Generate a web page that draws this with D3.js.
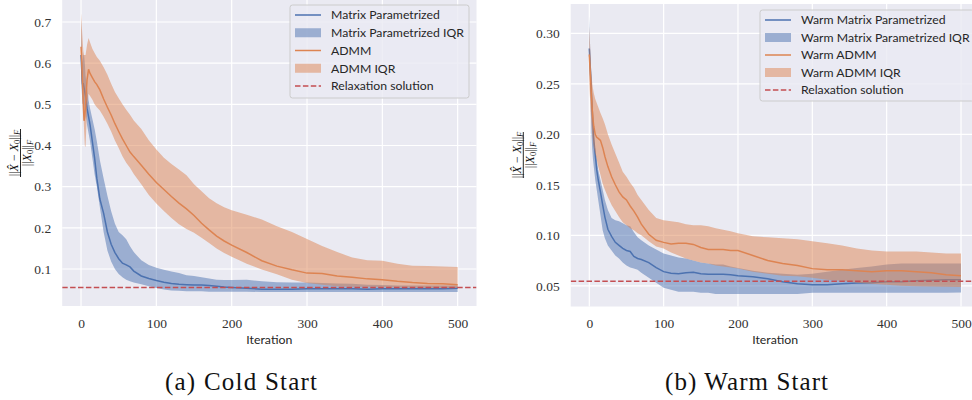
<!DOCTYPE html>
<html><head><meta charset="utf-8">
<script src="https://cdn.jsdelivr.net/npm/d3@7"></script>
<style>body{margin:0;background:#fff}</style>
</head><body>
<svg id="c" width="972" height="400" xmlns="http://www.w3.org/2000/svg"></svg>
<script>
// ---------------- DATA ----------------
const iters = [0,1,2,3,4,5,6,8,10,12,15,18,21,25,30,35,40,45,50,55,60,65,70,80,90,100,110,120,130,140,150,160,170,180,190,200,220,240,260,280,300,320,340,360,380,400,420,440,460,480,500];

// Cold start
const coldMP   = [0.62,0.58,0.55,0.55,0.54,0.53,0.52,0.49,0.47,0.45,0.41,0.37,0.32,0.27,0.235,0.19,0.16,0.14,0.125,0.114,0.11,0.105,0.095,0.083,0.077,0.072,0.068,0.065,0.063,0.062,0.061,0.061,0.060,0.058,0.056,0.055,0.053,0.051,0.051,0.051,0.052,0.052,0.052,0.052,0.051,0.052,0.052,0.052,0.052,0.052,0.053];
const coldMPq1 = [0.56,0.53,0.5,0.5,0.5,0.49,0.48,0.45,0.43,0.41,0.37,0.33,0.30,0.25,0.19,0.145,0.118,0.1,0.088,0.08,0.074,0.07,0.067,0.063,0.058,0.054,0.05,0.048,0.047,0.046,0.046,0.046,0.045,0.045,0.045,0.045,0.045,0.044,0.044,0.044,0.044,0.044,0.044,0.044,0.044,0.044,0.044,0.044,0.044,0.044,0.044];
const coldMPq3 = [0.706,0.64,0.6,0.62,0.62,0.6,0.57,0.54,0.51,0.49,0.465,0.44,0.41,0.364,0.32,0.278,0.24,0.21,0.19,0.182,0.172,0.155,0.141,0.121,0.11,0.103,0.098,0.094,0.09,0.085,0.083,0.08,0.077,0.074,0.073,0.073,0.074,0.07,0.068,0.067,0.067,0.066,0.065,0.064,0.062,0.061,0.06,0.06,0.06,0.06,0.06];
const coldADMM   = [0.64,0.6,0.55,0.5,0.46,0.47,0.5,0.56,0.585,0.575,0.565,0.555,0.548,0.535,0.513,0.493,0.474,0.453,0.434,0.416,0.4,0.384,0.373,0.352,0.33,0.31,0.293,0.276,0.26,0.246,0.23,0.211,0.195,0.18,0.168,0.158,0.14,0.12,0.107,0.098,0.09,0.089,0.083,0.08,0.076,0.074,0.07,0.067,0.065,0.064,0.062];
const coldADMMq1 = [0.6,0.56,0.52,0.485,0.44,0.4,0.396,0.49,0.526,0.52,0.512,0.5,0.493,0.485,0.47,0.453,0.434,0.412,0.394,0.374,0.358,0.346,0.331,0.306,0.28,0.259,0.241,0.224,0.209,0.197,0.188,0.176,0.163,0.15,0.139,0.13,0.113,0.099,0.087,0.074,0.066,0.062,0.058,0.057,0.057,0.056,0.055,0.055,0.054,0.054,0.054];
const coldADMMq3 = [0.722,0.69,0.66,0.63,0.62,0.62,0.62,0.645,0.661,0.65,0.635,0.625,0.615,0.606,0.59,0.572,0.55,0.53,0.515,0.5,0.487,0.475,0.461,0.44,0.413,0.39,0.37,0.355,0.342,0.328,0.306,0.289,0.272,0.26,0.25,0.243,0.232,0.22,0.204,0.19,0.173,0.156,0.141,0.128,0.121,0.12,0.113,0.108,0.107,0.106,0.105];

// Warm start
const warmMP   = [0.285,0.27,0.257,0.24,0.224,0.21,0.195,0.18,0.165,0.155,0.143,0.13,0.118,0.106,0.099,0.093,0.09,0.087,0.085,0.084,0.079,0.077,0.076,0.073,0.068,0.064,0.0625,0.062,0.063,0.0635,0.062,0.0615,0.0615,0.0615,0.061,0.06,0.059,0.057,0.054,0.052,0.051,0.051,0.052,0.0527,0.053,0.054,0.054,0.055,0.0555,0.056,0.056];
const warmMPq1 = [0.27,0.25,0.23,0.2,0.185,0.175,0.168,0.155,0.145,0.135,0.12,0.105,0.097,0.09,0.085,0.08,0.077,0.073,0.07,0.068,0.067,0.066,0.063,0.058,0.053,0.048,0.046,0.044,0.044,0.044,0.043,0.043,0.042,0.042,0.042,0.042,0.042,0.042,0.042,0.042,0.043,0.043,0.043,0.043,0.043,0.043,0.043,0.043,0.043,0.043,0.0434];
const warmMPq3 = [0.317,0.29,0.27,0.25,0.23,0.21,0.2,0.185,0.175,0.165,0.155,0.145,0.135,0.125,0.117,0.115,0.114,0.112,0.11,0.109,0.103,0.098,0.095,0.09,0.086,0.082,0.08,0.078,0.077,0.075,0.073,0.072,0.071,0.071,0.069,0.0675,0.065,0.063,0.062,0.061,0.062,0.064,0.066,0.0675,0.069,0.071,0.072,0.072,0.072,0.072,0.072];
const warmADMM   = [0.279,0.265,0.25,0.237,0.224,0.215,0.208,0.2,0.197,0.196,0.194,0.187,0.178,0.168,0.158,0.15,0.143,0.138,0.135,0.129,0.124,0.118,0.111,0.101,0.095,0.093,0.0915,0.092,0.092,0.091,0.088,0.086,0.086,0.086,0.085,0.085,0.08,0.075,0.072,0.07,0.067,0.066,0.066,0.065,0.064,0.065,0.065,0.064,0.063,0.061,0.060];
const warmADMMq1 = [0.25,0.235,0.22,0.21,0.2,0.193,0.188,0.181,0.175,0.168,0.16,0.151,0.145,0.138,0.13,0.124,0.118,0.113,0.11,0.107,0.105,0.102,0.1,0.094,0.089,0.087,0.083,0.08,0.077,0.075,0.073,0.072,0.07,0.069,0.068,0.067,0.064,0.062,0.06,0.0595,0.058,0.056,0.055,0.053,0.052,0.051,0.05,0.0495,0.0494,0.049,0.0487];
const warmADMMq3 = [0.307,0.29,0.27,0.26,0.25,0.245,0.241,0.235,0.231,0.227,0.221,0.216,0.21,0.2,0.19,0.181,0.172,0.163,0.158,0.152,0.147,0.14,0.135,0.125,0.117,0.115,0.114,0.113,0.111,0.11,0.11,0.109,0.107,0.1055,0.104,0.102,0.099,0.098,0.097,0.096,0.094,0.092,0.09,0.087,0.085,0.084,0.084,0.084,0.083,0.082,0.082];

const relaxCold = 0.055;
const relaxWarm = 0.0545;

const xTicks = [0,100,200,300,400,500];
const coldYTicks = [0.1,0.2,0.3,0.4,0.5,0.6,0.7];
const coldYLabels = ["0.1","0.2","0.3","0.4","0.5","0.6","0.7"];
const warmYTicks = [0.05,0.10,0.15,0.20,0.25,0.30];
const warmYLabels = ["0.05","0.10","0.15","0.20","0.25","0.30"];

const coldLegend = ["Matrix Parametrized","Matrix Parametrized IQR","ADMM","ADMM IQR","Relaxation solution"];
const warmLegend = ["Warm Matrix Parametrized","Warm Matrix Parametrized IQR","Warm ADMM","Warm ADMM IQR","Relaxation solution"];
const xLabel = "Iteration";
const captions = ["(a) Cold Start","(b) Warm Start"];

// ---------------- STYLE ----------------
const BLUE = "#4c72b0", ORANGE = "#dd8452", RED = "#c44e52", BG = "#eaeaf2";
const SANS = "Lato, 'DejaVu Sans', sans-serif";
const SERIF = "'Liberation Serif', 'DejaVu Serif', serif";

const svg = d3.select("#c");
svg.append("rect").attr("width",972).attr("height",400).attr("fill","#fff");

// fit font size of a text to a target width
function fitSize(str, family, target) {
  const t = svg.append("text").attr("font-family", family).attr("font-size", 100).text(str);
  const w = t.node().getComputedTextLength();
  t.remove();
  return 100 * target / w;
}
const legendSize = fitSize("Matrix Parametrized IQR", SANS, 133);
const xLabelSize = fitSize(xLabel, SANS, 46);

function panel(cfg, idx) {
  const x = d3.scaleLinear().domain([-25, 525]).range([cfg.x0, cfg.x1]);
  const y = d3.scaleLinear().domain(cfg.yDomain).range([cfg.y1, cfg.y0]);
  const g = svg.append("g");
  g.append("rect").attr("x", cfg.x0).attr("y", cfg.y0)
    .attr("width", cfg.x1 - cfg.x0).attr("height", cfg.y1 - cfg.y0).attr("fill", BG);

  const cid = "clip" + idx;
  svg.append("clipPath").attr("id", cid).append("rect")
    .attr("x", cfg.x0).attr("y", cfg.y0).attr("width", cfg.x1 - cfg.x0).attr("height", cfg.y1 - cfg.y0);

  // grid
  g.append("g").selectAll("line").data(xTicks).join("line")
    .attr("x1", d => x(d)).attr("x2", d => x(d)).attr("y1", cfg.y0).attr("y2", cfg.y1)
    .attr("stroke", "#fff").attr("stroke-width", 1.2);
  g.append("g").selectAll("line").data(cfg.yTicks).join("line")
    .attr("x1", cfg.x0).attr("x2", cfg.x1).attr("y1", d => y(d)).attr("y2", d => y(d))
    .attr("stroke", "#fff").attr("stroke-width", 1.2);

  // axes (labels only)
  const xa = g.append("g").attr("transform", `translate(0,${cfg.y1})`)
    .call(d3.axisBottom(x).tickValues(xTicks).tickSize(0).tickPadding(12).tickFormat(d3.format("d")));
  xa.select(".domain").remove();
  xa.selectAll("text").attr("font-family", SERIF).attr("font-size", 13.5).attr("fill", "#333");

  const ya = g.append("g").attr("transform", `translate(${cfg.x0},0)`)
    .call(d3.axisLeft(y).tickValues(cfg.yTicks).tickSize(0).tickPadding(11).tickFormat((d, i) => cfg.yLabels[i]));
  ya.select(".domain").remove();
  ya.selectAll("text").attr("font-family", SERIF).attr("font-size", 13.5).attr("fill", "#333");

  // data
  const pg = g.append("g").attr("clip-path", `url(#${cid})`);
  const line = d3.line().x((d, i) => x(iters[i])).y(d => y(d));
  const area = (lo, hi) => d3.area().x((d, i) => x(iters[i])).y0((d, i) => y(lo[i])).y1((d, i) => y(hi[i]))(lo);

  pg.append("path").attr("d", line(cfg.mp)).attr("fill", "none").attr("stroke", BLUE).attr("stroke-width", 1.5);
  pg.append("path").attr("d", area(cfg.mpq1, cfg.mpq3)).attr("fill", BLUE).attr("fill-opacity", 0.5);
  pg.append("path").attr("d", line(cfg.ad)).attr("fill", "none").attr("stroke", ORANGE).attr("stroke-width", 1.5);
  pg.append("path").attr("d", area(cfg.adq1, cfg.adq3)).attr("fill", ORANGE).attr("fill-opacity", 0.5);
  pg.append("line").attr("x1", cfg.x0).attr("x2", cfg.x1).attr("y1", y(cfg.relax)).attr("y2", y(cfg.relax))
    .attr("stroke", RED).attr("stroke-width", 1.5).attr("stroke-dasharray", "5.5,2.4");

  // legend
  const L = cfg.legend;
  const lg = g.append("g");
  lg.append("rect").attr("x", L.x).attr("y", L.y).attr("width", L.w).attr("height", L.h)
    .attr("rx", 2.5).attr("fill", BG).attr("fill-opacity", 0.8).attr("stroke", "#cccccc").attr("stroke-width", 1);
  const kinds = ["line", "patch", "line", "patch", "dash"];
  const cols = [BLUE, BLUE, ORANGE, ORANGE, RED];
  cfg.legendText.forEach((t, i) => {
    const cy = L.y + L.first + i * L.step;
    const hx = L.x + 5;
    if (kinds[i] === "patch") {
      lg.append("rect").attr("x", hx).attr("y", cy - 4.5).attr("width", 26).attr("height", 9)
        .attr("fill", cols[i]).attr("fill-opacity", 0.5);
    } else {
      lg.append("line").attr("x1", hx).attr("x2", hx + 26).attr("y1", cy).attr("y2", cy)
        .attr("stroke", cols[i]).attr("stroke-width", 1.5)
        .attr("stroke-dasharray", kinds[i] === "dash" ? "5.5,2.4" : null);
    }
    lg.append("text").attr("x", L.x + 41).attr("y", cy).attr("dy", "0.35em")
      .attr("font-family", SANS).attr("font-size", legendSize).attr("fill", "#262626").text(t);
  });

  // x label
  g.append("text").attr("x", (cfg.x0 + cfg.x1) / 2).attr("y", 340).attr("dy", "0.35em")
    .attr("text-anchor", "middle").attr("font-family", SANS).attr("font-size", xLabelSize)
    .attr("fill", "#262626").text(xLabel);

  // y label: fraction, rotated
  const fl = g.append("g").attr("transform", `translate(${cfg.fx},${cfg.fy}) rotate(-90)`)
    .attr("font-family", SERIF).attr("font-size", 12).attr("fill", "#111");
  fl.append("line").attr("x1", -cfg.fw / 2).attr("x2", cfg.fw / 2).attr("y1", 0).attr("y2", 0)
    .attr("stroke", "#111").attr("stroke-width", 0.9);
  const num = fl.append("text").attr("text-anchor", "middle").attr("y", -2.8);
  num.append("tspan").text("||");
  num.append("tspan").attr("font-style", "italic").text("X\u0302");
  num.append("tspan").text(" \u2212 ");
  num.append("tspan").attr("font-style", "italic").text("X");
  num.append("tspan").attr("font-size", 8.5).attr("dy", 2).text("0");
  num.append("tspan").attr("dy", -2).text("||");
  num.append("tspan").attr("font-size", 8.5).attr("font-style", "italic").attr("dy", 2).text("F");
  const den = fl.append("text").attr("text-anchor", "middle").attr("y", 10.5);
  den.append("tspan").text("||");
  den.append("tspan").attr("font-style", "italic").text("X");
  den.append("tspan").attr("font-size", 8.5).attr("dy", 2).text("0");
  den.append("tspan").attr("dy", -2).text("||");
  den.append("tspan").attr("font-size", 8.5).attr("font-style", "italic").attr("dy", 2).text("F");

  // caption with letter-spacing fit
  const cap = svg.append("text").attr("x", cfg.capX).attr("y", 390).attr("text-anchor", "middle")
    .attr("font-family", SERIF).attr("font-size", 25).attr("fill", "#111").text(captions[idx]);
  const w = cap.node().getComputedTextLength();
  const n = captions[idx].length;
  const ls = (cfg.capW - w) / (n - 1);
  cap.attr("letter-spacing", ls).attr("x", cfg.capX + ls / 2);
}

panel({
  x0: 62.2, x1: 476.5, y0: -1, y1: 306, yDomain: [0.0101, 0.7559],
  yTicks: coldYTicks, yLabels: coldYLabels,
  mp: coldMP, mpq1: coldMPq1, mpq3: coldMPq3, ad: coldADMM, adq1: coldADMMq1, adq3: coldADMMq3,
  relax: relaxCold, legendText: coldLegend,
  legend: { x: 290, y: 5, w: 179, h: 93, first: 10, step: 17.75 },
  fx: 20.5, fy: 153, fw: 48, capX: 241, capW: 152
}, 0);

panel({
  x0: 570.7, x1: 979.6, y0: 4, y1: 306.5, yDomain: [0.0295, 0.329],
  yTicks: warmYTicks, yLabels: warmYLabels,
  mp: warmMP, mpq1: warmMPq1, mpq3: warmMPq3, ad: warmADMM, adq1: warmADMMq1, adq3: warmADMMq3,
  relax: relaxWarm, legendText: warmLegend,
  legend: { x: 760, y: 10, w: 214, h: 91, first: 10, step: 17.5 },
  fx: 523.3, fy: 155, fw: 46, capX: 746.5, capW: 163
}, 1);
</script>
</body></html>
